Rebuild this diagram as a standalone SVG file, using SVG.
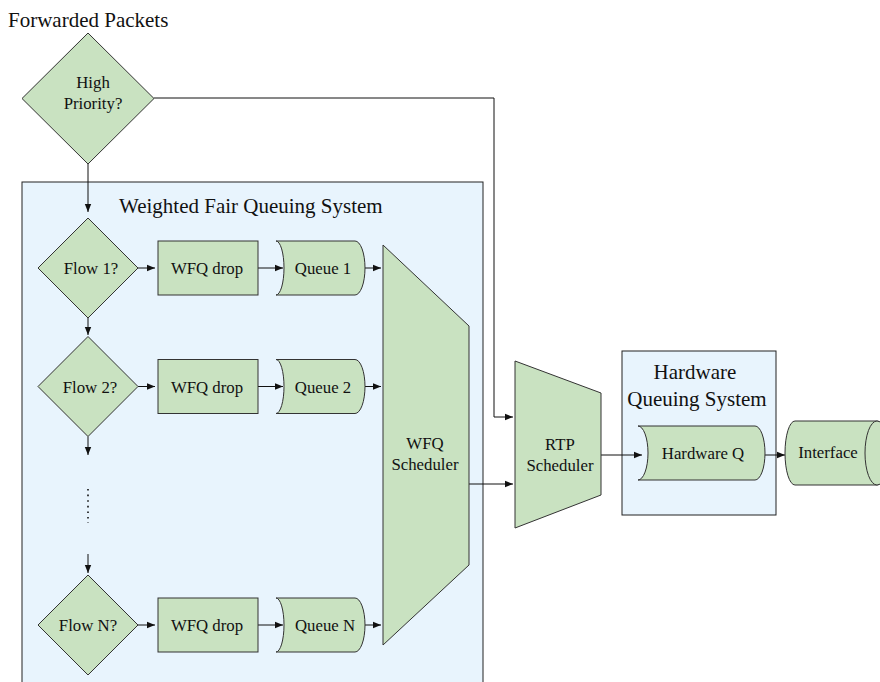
<svg xmlns="http://www.w3.org/2000/svg" width="880" height="682" viewBox="0 0 880 682">
  <style>
    .shape { fill: #c9e2c1; stroke: #333333; stroke-width: 1; }
    .system { fill: #e8f4fd; stroke: #222222; stroke-width: 1; }
    .label { font-family: 'Liberation Serif', Tinos, 'Times New Roman', Times, 'DejaVu Serif', serif; font-size: 16.8px; fill: #111111; text-anchor: middle; }
    .title { font-family: 'Liberation Serif', Tinos, 'Times New Roman', Times, 'DejaVu Serif', serif; font-size: 21px; fill: #111111; }
    .wire { fill: none; stroke: #111111; stroke-width: 1; }
    .dots { fill: none; stroke: #111111; stroke-width: 1.6; stroke-dasharray: 1.6 4; }
  </style>
  <defs>
    <marker id="arrow" viewBox="0 0 8 8" refX="8" refY="4" markerWidth="8" markerHeight="8" markerUnits="userSpaceOnUse" orient="auto">
      <path d="M0,0.8 L8,4 L0,7.2 Z" fill="#111111"/>
    </marker>
  </defs>

  <rect width="880" height="682" fill="#ffffff"/>

  <!-- containers -->
  <g id="wfq-system">
    <rect class="system" x="22" y="182" width="461" height="520"/>
    <text class="title" x="119" y="213">Weighted Fair Queuing System</text>
  </g>
  <g id="hw-system">
    <rect class="system" x="622" y="351" width="154" height="164"/>
    <text class="title" x="695" y="379" text-anchor="middle">Hardware</text>
    <text class="title" x="697" y="406" text-anchor="middle">Queuing System</text>
  </g>

  <g id="caption">
    <text class="title" x="8" y="27">Forwarded Packets</text>
  </g>

  <!-- connectors -->
  <g id="connectors">
    <path class="wire" d="M88,164 V212" marker-end="url(#arrow)"/>
    <path class="wire" d="M154,98 H494 V417 H513" marker-end="url(#arrow)"/>

    <path class="wire" d="M138,268 H155" marker-end="url(#arrow)"/>
    <path class="wire" d="M258,268 H283" marker-end="url(#arrow)"/>
    <path class="wire" d="M365,268 H381" marker-end="url(#arrow)"/>
    <path class="wire" d="M88,318 V335" marker-end="url(#arrow)"/>

    <path class="wire" d="M138,386.5 H155" marker-end="url(#arrow)"/>
    <path class="wire" d="M258,386.5 H283" marker-end="url(#arrow)"/>
    <path class="wire" d="M365,386.5 H381" marker-end="url(#arrow)"/>
    <path class="wire" d="M88,436.5 V455" marker-end="url(#arrow)"/>

    <path class="dots" d="M88,489 V523"/>
    <path class="wire" d="M88,554 V573" marker-end="url(#arrow)"/>

    <path class="wire" d="M138,625 H155" marker-end="url(#arrow)"/>
    <path class="wire" d="M258,625 H283" marker-end="url(#arrow)"/>
    <path class="wire" d="M365,625 H381" marker-end="url(#arrow)"/>

    <path class="wire" d="M469,484 H513" marker-end="url(#arrow)"/>
    <path class="wire" d="M601,455 H642" marker-end="url(#arrow)"/>
    <path class="wire" d="M765,455 H785" marker-end="url(#arrow)"/>
  </g>

  <!-- decision nodes -->
  <g id="high-priority">
    <polygon class="shape" points="88,33 154,98.5 88,164 22,98.5"/>
    <text class="label" x="93" y="87.5">High</text>
    <text class="label" x="93" y="109">Priority?</text>
  </g>
  <g id="flow-1">
    <polygon class="shape" points="88,218 138,268 88,318 38,268"/>
    <text class="label" x="91" y="274">Flow 1?</text>
  </g>
  <g id="flow-2">
    <polygon class="shape" points="88,336.5 138,386.5 88,436.5 38,386.5"/>
    <text class="label" x="90" y="392.5">Flow 2?</text>
  </g>
  <g id="flow-n">
    <polygon class="shape" points="88,575 138,625 88,675 38,625"/>
    <text class="label" x="88" y="631">Flow N?</text>
  </g>

  <!-- drop stages -->
  <g id="wfq-drop-1">
    <rect class="shape" x="158" y="241" width="100" height="54"/>
    <text class="label" x="207" y="274">WFQ drop</text>
  </g>
  <g id="wfq-drop-2">
    <rect class="shape" x="158" y="359.5" width="100" height="54"/>
    <text class="label" x="207" y="392.5">WFQ drop</text>
  </g>
  <g id="wfq-drop-n">
    <rect class="shape" x="158" y="598" width="100" height="54"/>
    <text class="label" x="207" y="631">WFQ drop</text>
  </g>

  <!-- queues -->
  <g id="queue-1">
    <path class="shape" d="M276,241 H355 A10,27 0 0 1 355,295 H276 A8,27 0 0 0 276,241 Z"/>
    <text class="label" x="323" y="274">Queue 1</text>
  </g>
  <g id="queue-2">
    <path class="shape" d="M276,359.5 H355 A10,27 0 0 1 355,413.5 H276 A8,27 0 0 0 276,359.5 Z"/>
    <text class="label" x="323" y="392.5">Queue 2</text>
  </g>
  <g id="queue-n">
    <path class="shape" d="M276,598 H355 A10,27 0 0 1 355,652 H276 A8,27 0 0 0 276,598 Z"/>
    <text class="label" x="325" y="631">Queue N</text>
  </g>

  <!-- schedulers -->
  <g id="wfq-scheduler">
    <polygon class="shape" points="383,245 469,326 469,565 383,645"/>
    <text class="label" x="425" y="449">WFQ</text>
    <text class="label" x="425" y="470">Scheduler</text>
  </g>
  <g id="rtp-scheduler">
    <polygon class="shape" points="515,361 601,393 601,495 515,528"/>
    <text class="label" x="560" y="450">RTP</text>
    <text class="label" x="560" y="471">Scheduler</text>
  </g>

  <!-- hardware queue and interface -->
  <g id="hardware-q">
    <path class="shape" d="M638,426 H755 A10,27 0 0 1 755,480 H638 A10,27 0 0 0 638,426 Z"/>
    <text class="label" x="703" y="459">Hardware Q</text>
  </g>
  <g id="interface">
    <path class="shape" d="M795,421 H877 A12,32 0 0 1 877,485 H795 A10,32 0 0 1 795,421 Z"/>
    <ellipse class="shape" cx="877" cy="453" rx="12" ry="32"/>
    <text class="label" x="828" y="458">Interface</text>
  </g>
</svg>
